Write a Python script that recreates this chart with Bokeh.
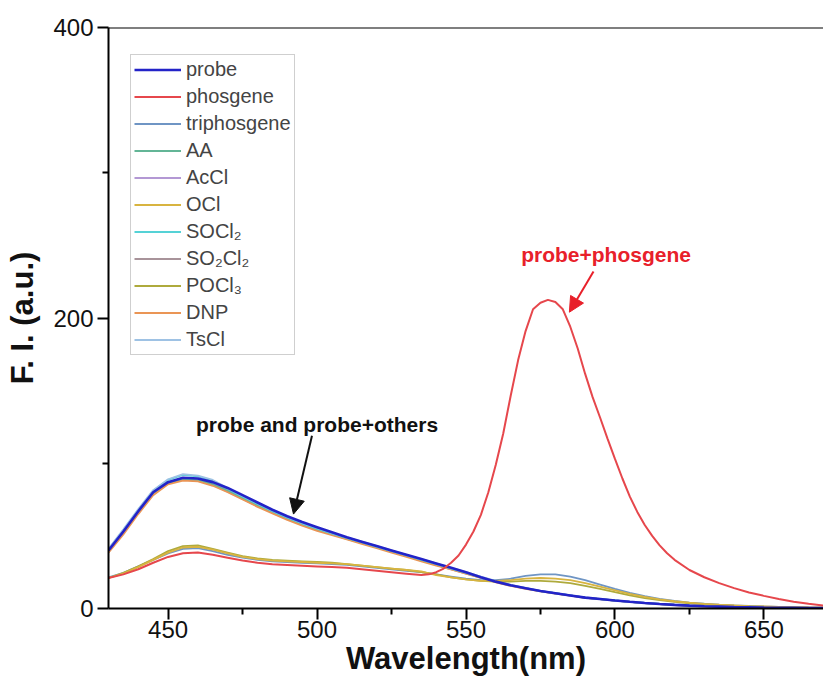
from bokeh.plotting import figure
from bokeh.models import Legend, LegendItem, Span, Arrow, NormalHead, Label, FixedTicker
from bokeh.embed import file_html
from bokeh.resources import INLINE

# ---------------- data ----------------
wavelength = list(range(430, 671, 5))

probe = [40, 53, 67, 80, 87, 90, 89.5, 87, 83, 78, 73, 68, 63.5, 59.5, 56, 52.5, 49, 46, 43, 40,
         37, 34, 31, 28, 25, 21.5, 18.5, 16, 14, 12, 10.5, 9, 7.5, 6.5, 5.5, 4.6, 3.8, 3.1, 2.5, 2.0,
         1.6, 1.3, 1.0, 0.8, 0.6, 0.5, 0.4, 0.3, 0.3]

phosgene_wavelength = [430, 435, 440, 445, 450, 455, 460, 465, 470, 475, 480, 485, 490, 495, 500,
                       505, 510, 515, 520, 525, 530, 535, 537.5, 540, 542.5, 545, 547.5, 550, 552.5,
                       555, 557.5, 560, 562.5, 565, 567.5, 570, 572.5, 575, 577.5, 580, 582.5, 585,
                       587.5, 590, 592.5, 595, 597.5, 600, 602.5, 605, 607.5, 610, 612.5, 615, 617.5,
                       620, 625, 630, 635, 640, 645, 650, 655, 660, 665, 670]
phosgene = [21, 23.5, 27, 31.5, 35.5, 38, 38.5, 37, 35, 33, 31.5, 30.5, 30, 29.5, 29,
            28.5, 28, 27, 26, 25, 24, 23, 23.5, 25, 27.5, 31.5, 36.5, 44, 53,
            64.5, 80, 99, 120.5, 146.5, 171, 191, 206, 210.5, 212.5, 211, 206, 194,
            179, 161.5, 145.5, 131.5, 117, 103, 89.5, 77, 66.5, 57.5, 50, 43.5, 38,
            33.5, 26.5, 21.5, 17.5, 14, 11, 8.7, 6.5, 4.7, 3.2, 2]

triphosgene = [21.5, 24.5, 29, 33.5, 38, 41, 41.5, 39.5, 37, 35, 33.5, 32.5, 32, 31.5, 31, 30.5, 30, 29, 28, 27,
               26, 25, 23.5, 22, 20.5, 19.5, 19.5, 20.5, 22.5, 23.5, 23.5, 22, 19.5, 16.5, 13.5, 10.8, 8.5, 6.6, 5.2, 4.1,
               3.3, 2.7, 2.2, 1.8, 1.4, 1.1, 0.9, 0.7, 0.6]
AA = [39, 52, 66, 79, 86.5, 89, 88.5, 85.5, 81, 76, 71, 66.5, 62, 58, 54.5, 51, 48, 45, 42, 39,
      36, 33, 30, 27.5, 24.5, 21.5, 18.5, 16, 14, 12, 10.5, 9, 7.5, 6.5, 5.5, 4.6, 3.8, 3.1, 2.5, 2.0,
      1.6, 1.3, 1.0, 0.8, 0.6, 0.5, 0.4, 0.3, 0.3]
AcCl = [40, 53, 67, 80, 87, 89.5, 89, 86, 81.5, 76.5, 71.5, 67, 62.5, 58.5, 55, 51.5, 48.5, 45.5, 42.5, 39.5,
        36.5, 33.5, 30.5, 27.5, 24.5, 21.5, 18.5, 16, 14, 12, 10.5, 9, 7.5, 6.5, 5.5, 4.6, 3.8, 3.1, 2.5, 2.0,
        1.6, 1.3, 1.0, 0.8, 0.6, 0.5, 0.4, 0.3, 0.3]
OCl = [21, 24, 28.5, 33.5, 38.5, 42, 42.5, 40.5, 38, 35.5, 34, 33, 32.5, 32, 31.5, 31, 30.5, 29.5, 28.5, 27.5,
       26.5, 25.5, 23, 21.5, 20, 19, 19, 19.5, 20.5, 21, 20.5, 19.5, 17.5, 15, 12.5, 10, 8, 6.3, 5, 4,
       3.2, 2.6, 2.1, 1.7, 1.4, 1.1, 0.9, 0.7, 0.6]
SOCl2 = [41, 54, 68, 81, 88.5, 92, 91, 88, 82.5, 77, 72, 67, 62.5, 58.5, 55, 51.5, 48.5, 45.5, 42.5, 39.5,
         36.5, 33.5, 30.5, 27.5, 24.5, 21.5, 18.5, 16, 14, 12, 10.5, 9, 7.5, 6.5, 5.5, 4.6, 3.8, 3.1, 2.5, 2.0,
         1.6, 1.3, 1.0, 0.8, 0.6, 0.5, 0.4, 0.3, 0.3]
SO2Cl2 = [39.5, 52.5, 66.5, 79.5, 86.5, 88.5, 88, 85, 80.5, 75.5, 70.5, 66, 61.5, 57.5, 54, 51, 48, 45, 42, 39,
          36, 33, 30, 27, 24, 21, 18.3, 15.8, 13.8, 11.9, 10.4, 8.9, 7.4, 6.4, 5.4, 4.5, 3.7, 3.0, 2.4, 1.9,
          1.5, 1.2, 1.0, 0.8, 0.6, 0.5, 0.4, 0.3, 0.3]
POCl3 = [21, 24.5, 29, 34, 39.5, 43, 43.5, 41, 38.5, 36, 34.5, 33.5, 33, 32.5, 32, 31.5, 30.5, 29.5, 28.5, 27.5,
         26.5, 25, 23.5, 21.5, 20, 19, 18.5, 18.5, 19, 19, 18.5, 17.5, 15.5, 13.5, 11.2, 9, 7.2, 5.7, 4.5, 3.6,
         2.9, 2.3, 1.9, 1.5, 1.2, 1.0, 0.8, 0.6, 0.5]
DNP = [38.5, 51, 65, 78, 85.5, 88, 87.5, 84.5, 80, 75, 70, 65.5, 61, 57, 53.5, 50.5, 47.5, 44.5, 41.5, 38.5,
       35.5, 32.5, 29.5, 27, 24, 21, 18, 15.5, 13.5, 11.8, 10.3, 8.8, 7.4, 6.4, 5.4, 4.5, 3.7, 3.0, 2.4, 1.9,
       1.5, 1.2, 1.0, 0.8, 0.6, 0.5, 0.4, 0.3, 0.3]
TsCl = [41, 54.5, 68.5, 81.5, 89, 92.5, 91.5, 88.5, 83, 77.5, 72.5, 67.5, 63, 59, 55.5, 52, 49, 46, 43, 40,
        37, 34, 31, 28, 25, 22, 19, 16.3, 14.2, 12.2, 10.6, 9.1, 7.6, 6.6, 5.6, 4.7, 3.9, 3.2, 2.6, 2.1,
        1.7, 1.4, 1.1, 0.9, 0.7, 0.5, 0.4, 0.3, 0.3]

x_ticks = [450, 500, 550, 600, 650]
x_minor_ticks = [475, 525, 575, 625]
y_ticks = [0, 200, 400]
y_minor_ticks = [100, 300]

# ---------------- styling ----------------
FONT = "Liberation Sans"
series = {
    "probe": (wavelength, probe, "#2323c8", 2.6),
    "phosgene": (phosgene_wavelength, phosgene, "#e6474c", 2.0),
    "triphosgene": (wavelength, triphosgene, "#6f95c4", 1.8),
    "AA": (wavelength, AA, "#63b596", 1.8),
    "AcCl": (wavelength, AcCl, "#b398d4", 1.8),
    "OCl": (wavelength, OCl, "#d8b440", 1.8),
    "SOCl₂": (wavelength, SOCl2, "#55d2d6", 1.8),
    "SO₂Cl₂": (wavelength, SO2Cl2, "#a8939a", 1.8),
    "POCl₃": (wavelength, POCl3, "#aeaa3c", 1.8),
    "DNP": (wavelength, DNP, "#ea9555", 1.8),
    "TsCl": (wavelength, TsCl, "#9ec2e4", 1.8),
}
legend_order = ["probe", "phosgene", "triphosgene", "AA", "AcCl", "OCl",
                "SOCl₂", "SO₂Cl₂", "POCl₃", "DNP", "TsCl"]
draw_order = ["SO₂Cl₂", "AcCl", "AA", "DNP", "SOCl₂", "TsCl",
              "triphosgene", "POCl₃", "OCl", "probe", "phosgene"]

p = figure(width=823, height=686, x_range=(430, 670), y_range=(0, 400),
           output_backend="svg", toolbar_location=None,
           min_border_left=108, min_border_right=0, min_border_top=27, min_border_bottom=78)
p.outline_line_color = None
p.grid.visible = False
p.background_fill_color = "white"

renderers = {}
for name in draw_order:
    xs, vals, color, lw = series[name]
    renderers[name] = p.line(xs, vals, line_color=color, line_width=lw)

# axes
for ax in (p.xaxis[0], p.yaxis[0]):
    ax.axis_line_width = 2
    ax.major_tick_line_width = 2
    ax.minor_tick_line_width = 2
    ax.major_tick_in = 0
    ax.major_tick_out = 11
    ax.minor_tick_in = 0
    ax.minor_tick_out = 6
    ax.major_label_text_font = FONT
    ax.major_label_text_font_size = "24px"
    ax.major_label_text_color = "#111111"
    ax.axis_label_text_font = FONT
    ax.axis_label_text_font_style = "bold"
    ax.axis_label_text_color = "#111111"

p.xaxis.ticker = FixedTicker(ticks=x_ticks, minor_ticks=x_minor_ticks)
p.yaxis.ticker = FixedTicker(ticks=y_ticks, minor_ticks=y_minor_ticks)
p.xaxis.axis_label = "Wavelength(nm)"
p.yaxis.axis_label = "F. I. (a.u.)"
p.xaxis.axis_label_text_font_size = "31px"
p.yaxis.axis_label_text_font_size = "31px"
p.xaxis.major_label_standoff = 1
p.yaxis.major_label_standoff = 4
p.xaxis.axis_label_standoff = 0
p.yaxis.axis_label_standoff = 10

p.add_layout(Span(location=400, dimension="width", line_color="black", line_width=2))

legend = Legend(items=[LegendItem(label=n, renderers=[renderers[n]]) for n in legend_order],
                location=(22, 253), border_line_color="#a0a0a0", border_line_width=1.5,
                padding=3, spacing=4, label_height=23, glyph_height=23, glyph_width=47,
                label_standoff=5, label_text_font=FONT, label_text_font_size="20px",
                margin=0, background_fill_color="white", background_fill_alpha=1)
p.add_layout(legend)

# annotations
p.add_layout(Label(x=500, y=127, text="probe and probe+others", text_align="center",
                   text_baseline="middle", text_font=FONT, text_font_style="bold",
                   text_font_size="21px", text_color="#111111"))
p.add_layout(Arrow(end=NormalHead(size=15, fill_color="#111111", line_color="#111111"),
                   x_start=498.3, y_start=119, x_end=492.1, y_end=65,
                   line_color="#111111", line_width=2))
p.add_layout(Label(x=597, y=244, text="probe+phosgene", text_align="center",
                   text_baseline="middle", text_font=FONT, text_font_style="bold",
                   text_font_size="21px", text_color="#e8202a"))
p.add_layout(Arrow(end=NormalHead(size=15, fill_color="#e8202a", line_color="#e8202a"),
                   x_start=592.8, y_start=232, x_end=584.7, y_end=204,
                   line_color="#e8202a", line_width=2))

open("out.html", "w").write(file_html(p, INLINE))
